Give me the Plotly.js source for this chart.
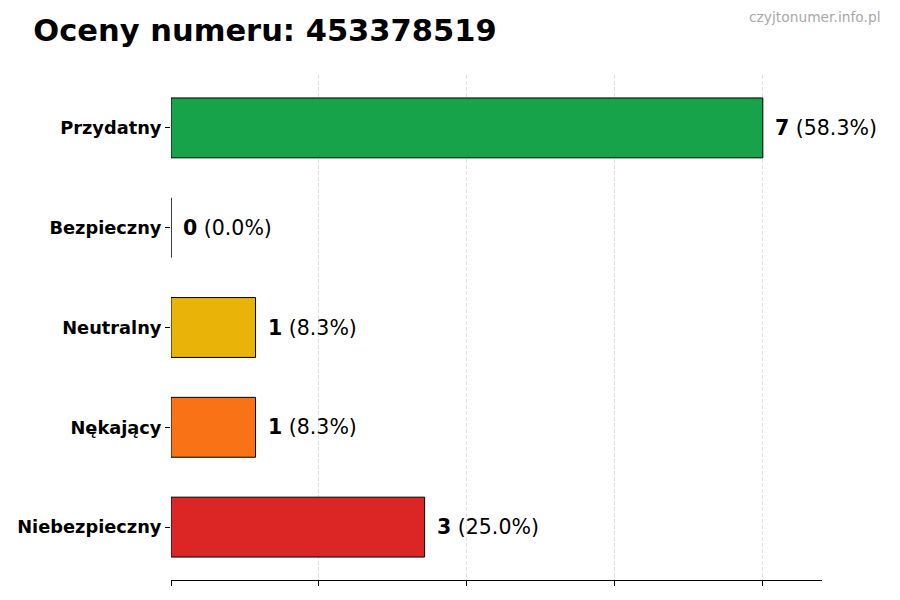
<!DOCTYPE html>
<html>
<head>
<meta charset="utf-8">
<script src="https://cdn.plot.ly/plotly-3.0.1.min.js"></script>
<style>
  body { margin: 0; background: #ffffff; }
  #chart { width: 900px; height: 600px; }
</style>
</head>
<body>
<div id="chart"></div>
<script>
var categories = ["Przydatny", "Bezpieczny", "Neutralny", "Nękający", "Niebezpieczny"];
var counts = [7, 0, 1, 1, 3];
var colors = ["#17a34a", "#3b82f6", "#eab308", "#f97316", "#dc2626"];
var numer = "453378519";

var total = counts.reduce(function (a, b) { return a + b; }, 0);
var maxCount = Math.max.apply(null, counts);

var trace1 = {
  type: "bar",
  orientation: "h",
  x: counts,
  y: categories,
  width: 0.6,
  marker: {
    color: colors,
    line: { color: "#000000", width: 1 }
  },
  hoverinfo: "none"
};

var annotations = [];
for (let i = 0; i < categories.length; i++) {
  let pct = (counts[i] / total * 100).toFixed(1);
  annotations.push({
    x: counts[i],
    y: categories[i],
    xref: "x",
    yref: "y",
    text: "<b>" + counts[i] + "</b> (" + pct + "%)",
    showarrow: false,
    xanchor: "left",
    yanchor: "middle",
    xshift: 10,
    font: { family: "DejaVu Sans", size: 20.5, color: "#000000" }
  });
}
// watermark
annotations.push({
  x: 1.094, y: 1.115, xref: "paper", yref: "paper",
  text: "czyjtonumer.info.pl",
  showarrow: false, xanchor: "right", yanchor: "middle",
  font: { family: "DejaVu Sans", size: 13.8, color: "#a8a8a8" }
});

var layout = {
  width: 900,
  height: 600,
  margin: { l: 171, r: 78, t: 75, b: 20 },
  paper_bgcolor: "#ffffff",
  plot_bgcolor: "#ffffff",
  showlegend: false,
  font: { family: "DejaVu Sans", color: "#000000" },
  title: {
    text: "<b>Oceny numeru: " + numer + "</b>",
    x: 0.037, xanchor: "left", xref: "container",
    y: 0.95, yanchor: "middle", yref: "container",
    font: { family: "DejaVu Sans", size: 30.5, color: "#000000" }
  },
  xaxis: {
    range: [0, maxCount * 1.1],
    tick0: 0,
    dtick: 1.75,
    showticklabels: false,
    ticks: "outside",
    ticklen: 5,
    tickcolor: "#000000",
    tickwidth: 1,
    showgrid: true,
    gridcolor: "#d8d8d8",
    griddash: "4px,2px",
    gridwidth: 0.8,
    zeroline: false,
    showline: true,
    linecolor: "#000000",
    linewidth: 1,
    layer: "above traces",
    fixedrange: true
  },
  yaxis: {
    type: "category",
    categoryorder: "array",
    categoryarray: categories,
    range: [categories.length - 0.47, -0.53],
    ticks: "outside",
    ticklen: 5,
    tickcolor: "#000000",
    showgrid: false,
    zeroline: false,
    showline: false,
    tickfont: { family: "DejaVu Sans", size: 17.8, weight: "bold", color: "#000000" },
    fixedrange: true
  },
  annotations: annotations
};

Plotly.newPlot("chart", [trace1], layout, { displayModeBar: false, staticPlot: true });
</script>
</body>
</html>
